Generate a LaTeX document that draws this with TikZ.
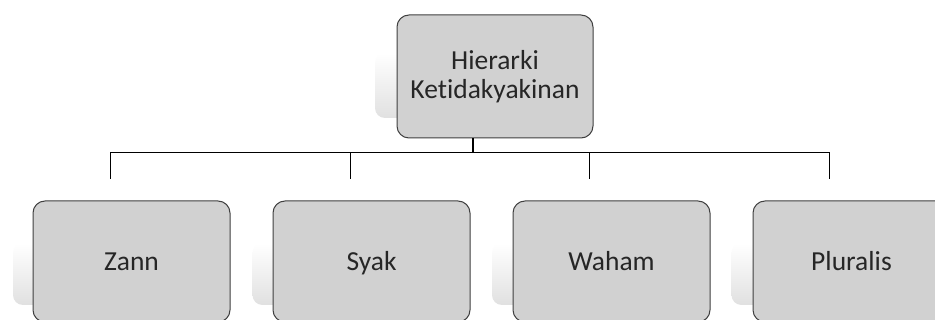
\documentclass[tikz,border=0pt]{standalone}
\usepackage{fontspec}
\setmainfont{Carlito}[RawFeature={-liga;-clig;-dlig;-calt}]
\begin{document}
\begin{tikzpicture}[x=1pt,y=-1pt,
  box/.style={draw=black!75, line width=1pt, fill=black!18, rounded corners=12pt,
    minimum width=197pt, minimum height=121pt, inner sep=0pt, align=center,
    text=black!85, font=\fontsize{27.5}{29}\selectfont},
  leaf/.style={box, text height=17.6pt, text depth=0pt},
  shadowbox/.style={draw=none, rounded corners=10pt, top color=white, bottom color=black!12,
    minimum width=195pt, minimum height=62pt, inner sep=0pt},
  conn/.style={draw=black, line width=1pt}]
\useasboundingbox (0,0) rectangle (935,320);
\clip (0,0) rectangle (935,320);
\fill[white] (0,0) rectangle (935,320);
% shadows
\node[shadowbox, minimum height=65pt] (s0) at (472.5,85.5) {};
\node[shadowbox] (s1) at (110.5,274) {};
\node[shadowbox] (s2) at (350,274) {};
\node[shadowbox] (s3) at (589.5,274) {};
\node[shadowbox] (s4) at (829,274) {};
% junction coordinates
\coordinate (j0) at (473,153);
\coordinate (j1) at (110.5,153);
\coordinate (j2) at (350,153);
\coordinate (j3) at (589.5,153);
\coordinate (j4) at (829,153);
\coordinate (e1) at (110.5,179);
\coordinate (e2) at (350,179);
\coordinate (e3) at (589.5,179);
\coordinate (e4) at (829,179);
% boxes
\node[box, minimum width=196pt, minimum height=123pt] (top) at (495,76.5) {Hierarki\\Ketidakyakinan};
\node[leaf] (b1) at (131.5,261.5) {Zann};
\node[leaf] (b2) at (371.5,261.5) {Syak};
\node[leaf] (b3) at (611.5,261.5) {Waham};
\node[leaf] (b4) at (851.5,261.5) {Pluralis};
% connectors
\draw[conn, line width=1.8pt] (top.south -| j0) -- (j0);
\draw[conn] (e1) -- (j1) -- (j4) -- (e4);
\draw[conn] (j2) -- (e2);
\draw[conn] (j3) -- (e3);
\end{tikzpicture}
\end{document}
